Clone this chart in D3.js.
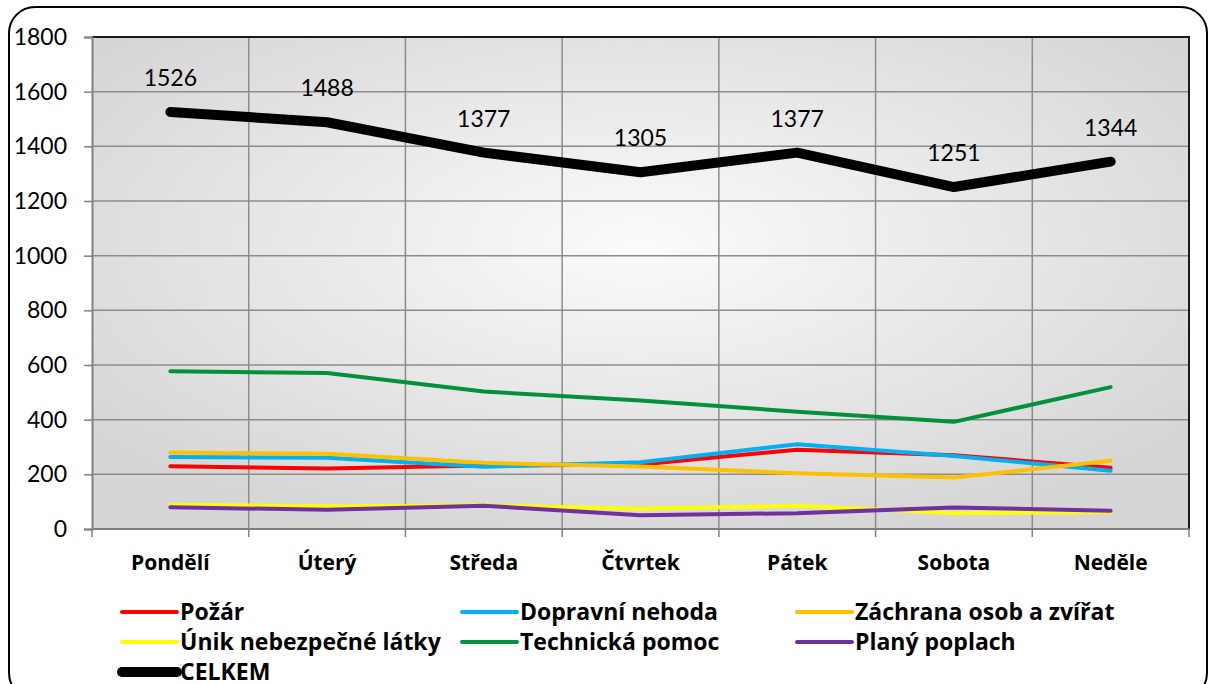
<!DOCTYPE html>
<html>
<head>
<meta charset="utf-8">
<script src="https://cdn.jsdelivr.net/npm/d3@7"></script>
<style>
  body { margin: 0; background: #fff; }
  svg { display: block; }
  text { font-family: Lato, "Open Sans", sans-serif; fill: #000; }
  .bold { font-family: "Open Sans", Lato, sans-serif; font-weight: bold; }
</style>
</head>
<body>
<svg id="chart" width="1215" height="684"></svg>
<script>
// data
const days = ['Pondělí', 'Úterý', 'Středa', 'Čtvrtek', 'Pátek', 'Sobota', 'Neděle'];
const pozar = [230, 221, 232, 236, 290, 270, 224];
const dopravni = [263, 261, 228, 244, 310, 267, 213];
const zachrana = [280, 275, 242, 229, 204, 188, 250];
const unik = [89, 83, 87, 74, 85, 58, 62];
const technicka = [577, 571, 503, 470, 429, 392, 519];
const plany = [80, 70, 85, 50, 58, 79, 67];
const celkem = [1526, 1488, 1377, 1305, 1377, 1251, 1344];
const yTicks = [0, 200, 400, 600, 800, 1000, 1200, 1400, 1600, 1800];

const series = [
  {name: 'Požár', values: pozar, color: '#ff0000', width: 4},
  {name: 'Dopravní nehoda', values: dopravni, color: '#00b0f0', width: 4},
  {name: 'Záchrana osob a zvířat', values: zachrana, color: '#ffc000', width: 4},
  {name: 'Únik nebezpečné látky', values: unik, color: '#ffff00', width: 4},
  {name: 'Technická pomoc', values: technicka, color: '#00913f', width: 4},
  {name: 'Planý poplach', values: plany, color: '#7030a0', width: 4},
  {name: 'CELKEM', values: celkem, color: '#000000', width: 10}
];

const svg = d3.select('#chart');
const plot = {left: 92, right: 1189, top: 37, bottom: 529};

// outer rounded frame
svg.append('rect')
  .attr('x', 9).attr('y', 7).attr('width', 1198).attr('height', 692)
  .attr('rx', 26).attr('ry', 26)
  .attr('fill', '#fff').attr('stroke', '#000').attr('stroke-width', 2);

const x = d3.scaleBand().domain(days).range([plot.left, plot.right]);
const y = d3.scaleLinear().domain([0, 1800]).range([plot.bottom, plot.top]);

const defs = svg.append('defs');
const grad = defs.append('radialGradient').attr('id', 'bg')
  .attr('cx', 0.5).attr('cy', 0.42).attr('r', 0.62);
grad.append('stop').attr('offset', '0%').attr('stop-color', '#fbfbfb');
grad.append('stop').attr('offset', '100%').attr('stop-color', '#d6d6d6');

svg.append('rect')
  .attr('x', plot.left).attr('y', plot.top)
  .attr('width', plot.right - plot.left).attr('height', plot.bottom - plot.top)
  .attr('fill', 'url(#bg)');

// gridlines
const bounds = days.map(d => x(d)).concat([plot.right]);
svg.append('g').selectAll('line').data(bounds.slice(1, -1)).join('line')
  .attr('x1', d => d).attr('x2', d => d)
  .attr('y1', plot.top).attr('y2', plot.bottom)
  .attr('stroke', '#8c8c8c').attr('stroke-width', 1.5);
svg.append('g').selectAll('line').data(yTicks.slice(1, -1)).join('line')
  .attr('x1', plot.left).attr('x2', plot.right)
  .attr('y1', d => y(d)).attr('y2', d => y(d))
  .attr('stroke', '#8c8c8c').attr('stroke-width', 1.5);

// plot border top / right
svg.append('path')
  .attr('d', `M${plot.left},${plot.top}H${plot.right}V${plot.bottom}`)
  .attr('fill', 'none').attr('stroke', '#1a1a1a').attr('stroke-width', 2);

// y axis
const yAxis = svg.append('g')
  .attr('transform', `translate(${plot.left},0)`)
  .call(d3.axisLeft(y).tickValues(yTicks).tickFormat(d3.format('d')).tickSize(8).tickPadding(17));
yAxis.select('.domain').attr('stroke', '#808080').attr('stroke-width', 2);
yAxis.selectAll('.tick line').attr('stroke', '#808080').attr('stroke-width', 1.5);
yAxis.selectAll('.tick text').style('font-size', '23px').attr('fill', '#000')
  .style('font-family', 'Lato');

// x axis
svg.append('line')
  .attr('x1', plot.left).attr('x2', plot.right)
  .attr('y1', plot.bottom).attr('y2', plot.bottom)
  .attr('stroke', '#808080').attr('stroke-width', 2);
svg.append('g').selectAll('line').data(bounds).join('line')
  .attr('x1', d => d).attr('x2', d => d)
  .attr('y1', plot.bottom).attr('y2', plot.bottom + 8)
  .attr('stroke', '#808080').attr('stroke-width', 1.5);
svg.append('g').selectAll('text').data(days).join('text')
  .attr('class', 'bold')
  .attr('x', d => x(d) + x.bandwidth() / 2)
  .attr('y', 563)
  .attr('dy', '0.35em')
  .attr('text-anchor', 'middle')
  .style('font-size', '21px')
  .text(d => d);

// lines
const line = d3.line()
  .x((d, i) => x(days[i]) + x.bandwidth() / 2)
  .y(d => y(d));

svg.append('g').selectAll('path').data(series).join('path')
  .attr('d', s => line(s.values))
  .attr('fill', 'none')
  .attr('stroke', s => s.color)
  .attr('stroke-width', s => s.width)
  .attr('stroke-linejoin', 'round')
  .attr('stroke-linecap', 'round');

// data labels for CELKEM
svg.append('g').selectAll('text').data(celkem).join('text')
  .attr('x', (d, i) => x(days[i]) + x.bandwidth() / 2)
  .attr('y', d => y(d) - 34)
  .attr('dy', '0.35em')
  .attr('text-anchor', 'middle')
  .style('font-size', '23px')
  .text(d => d);

// legend
const legCols = [122, 462, 797];
const legRows = [612, 642, 672];
const leg = svg.append('g').selectAll('g').data(series).join('g')
  .attr('transform', (s, i) => `translate(${legCols[i % 3]},${legRows[Math.floor(i / 3)]})`);
leg.append('line')
  .attr('x1', 0).attr('x2', 55)
  .attr('stroke', s => s.color)
  .attr('stroke-width', s => s.width)
  .attr('stroke-linecap', 'round');
leg.append('text')
  .attr('class', 'bold')
  .attr('x', 58).attr('dy', '0.35em')
  .style('font-size', '23px')
  .text(s => s.name);
</script>
</body>
</html>
